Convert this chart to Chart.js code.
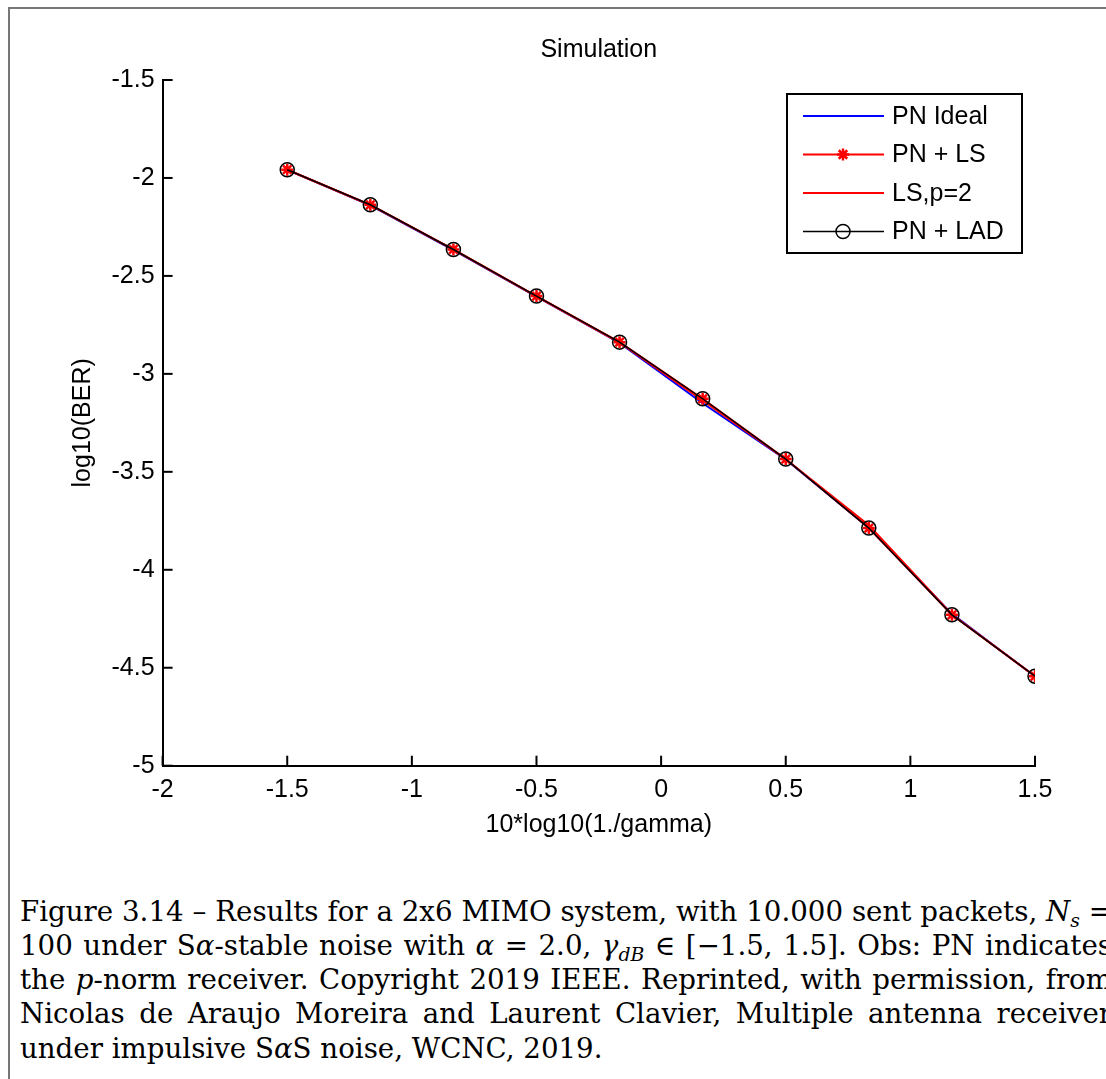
<!DOCTYPE html>
<html>
<head>
<meta charset="utf-8">
<script src="https://cdn.jsdelivr.net/npm/chart.js@4.4.1/dist/chart.umd.min.js"></script>
<style>
  html, body { margin: 0; padding: 0; background: #fff; width: 1106px; height: 1079px; overflow: hidden; }
  #frame { position: absolute; left: 8px; top: 7px; width: 1120px; height: 1100px;
           border-left: 2px solid #777; border-top: 2px solid #777; }
  #plot { position: absolute; left: 0; top: 0; }
  #caption { position: absolute; left: 20px; top: 894px; }
  .cap { width: max-content; white-space: nowrap;
         font-family: "DejaVu Serif", serif; font-size: 20px; line-height: 34.25px; color: #000; }
  .cap i { font-style: italic; }
  .cap sub { font-size: 0.68em; vertical-align: -0.3em; line-height: 0; }
</style>
</head>
<body>
<div id="frame"></div>
<canvas id="plot" width="1106" height="860"></canvas>

<div id="caption">
<div class="cap">Figure 3.14 – Results for a 2x6 MIMO system, with 10.000 sent packets, <i>N</i><sub><i>s</i></sub> =</div>
<div class="cap">100 under S<i>α</i>-stable noise with <i>α</i> = 2.0, <i>γ</i><sub><i>dB</i></sub> ∈ [−1.5, 1.5]. Obs: PN indicates</div>
<div class="cap">the <i>p</i>-norm receiver. Copyright 2019 IEEE. Reprinted, with permission, from</div>
<div class="cap">Nicolas de Araujo Moreira and Laurent Clavier, Multiple antenna receiver</div>
<div class="cap">under impulsive S<i>α</i>S noise, WCNC, 2019.</div>
</div>

<script>
// --- DATA ---
const xVals   = [-1.5, -1.1667, -0.8333, -0.5, -0.1667, 0.1667, 0.5, 0.8333, 1.1667, 1.5];
const pnIdeal = [-1.958, -2.140, -2.368, -2.606, -2.842, -3.150, -3.437, -3.785, -4.225, -4.545];
const pnLS    = [-1.958, -2.137, -2.365, -2.603, -2.838, -3.127, -3.435, -3.787, -4.230, -4.543];
const lsP2    = [-1.958, -2.138, -2.366, -2.604, -2.840, -3.135, -3.436, -3.772, -4.228, -4.543];
const pnLAD   = [-1.958, -2.137, -2.365, -2.603, -2.838, -3.127, -3.435, -3.787, -4.230, -4.543];
const seriesNames = ['PN Ideal', 'PN + LS', 'LS,p=2', 'PN + LAD'];
const chartTitle = 'Simulation';

// --- CONFIG ---
const FONT_FAMILY = '"Liberation Sans", Arial, sans-serif';
const AXIS_FONT = { family: FONT_FAMILY, size: 25, weight: 'normal' };
const CANVAS_H = 860;

const toPts = ys => ys.map((y, i) => ({ x: xVals[i], y: y }));
const fmtTick = v => Number(v.toFixed(2)).toString();

// legend styles, same order as seriesNames
const legendStyles = [
    { color: '#0000ff', width: 2,   point: null },
    { color: '#ff0000', width: 2,   point: { pointStyle: 'star', radius: 6, borderWidth: 2.5 } },
    { color: '#ff0000', width: 2,   point: null },
    { color: '#000000', width: 1.5, point: { pointStyle: 'circle', radius: 7, borderWidth: 1.5 } }
];

// title centred over the axes (the built-in one centres over the canvas)
const axesTitle = {
    id: 'axesTitle',
    afterDraw(chart) {
        const { ctx, chartArea: a } = chart;
        ctx.save();
        ctx.font = AXIS_FONT.size + 'px ' + FONT_FAMILY;
        ctx.fillStyle = '#000';
        ctx.textAlign = 'center';
        ctx.textBaseline = 'middle';
        ctx.fillText(chartTitle, (a.left + a.right) / 2, 50);
        ctx.restore();
    }
};

// MATLAB style ticks pointing into the axes
const inwardTicks = {
    id: 'inwardTicks',
    afterDraw(chart) {
        const { ctx, chartArea: a, scales } = chart;
        ctx.save();
        ctx.strokeStyle = '#000';
        ctx.lineWidth = 2;
        scales.x.ticks.forEach(t => {
            const px = scales.x.getPixelForValue(t.value);
            ctx.beginPath(); ctx.moveTo(px, a.bottom); ctx.lineTo(px, a.bottom - 10); ctx.stroke();
        });
        scales.y.ticks.forEach(t => {
            const py = scales.y.getPixelForValue(t.value);
            ctx.beginPath(); ctx.moveTo(a.left, py); ctx.lineTo(a.left + 10, py); ctx.stroke();
        });
        ctx.restore();
    }
};

// legend box inside the axes, top right
const boxLegend = {
    id: 'boxLegend',
    afterDraw(chart) {
        const { ctx, chartArea: a } = chart;
        const left = a.right - 248, top = a.top + 14, w = 235, h = 159;
        ctx.save();
        ctx.fillStyle = '#fff';
        ctx.fillRect(left, top, w, h);
        ctx.strokeStyle = '#000';
        ctx.lineWidth = 2;
        ctx.strokeRect(left, top, w, h);
        ctx.font = AXIS_FONT.size + 'px ' + FONT_FAMILY;
        ctx.textBaseline = 'middle';
        seriesNames.forEach((name, i) => {
            const st = legendStyles[i];
            const y = top + 22 + 38.5 * i;
            ctx.strokeStyle = st.color;
            ctx.lineWidth = st.width;
            ctx.beginPath(); ctx.moveTo(left + 16, y); ctx.lineTo(left + 97, y); ctx.stroke();
            if (st.point) {
                ctx.fillStyle = 'rgba(0,0,0,0)';
                ctx.lineWidth = st.point.borderWidth;
                Chart.helpers.drawPoint(ctx, Object.assign({ rotation: 0 }, st.point), left + 56, y);
            }
            ctx.fillStyle = '#000';
            ctx.fillText(name, left + 105, y + 1);
        });
        ctx.restore();
    }
};

new Chart(document.getElementById('plot').getContext('2d'), {
    type: 'line',
    data: {
        datasets: [
            { label: seriesNames[0], data: toPts(pnIdeal), borderColor: '#0000ff', borderWidth: 2,
              pointRadius: 0, order: 4 },
            { label: seriesNames[1], data: toPts(pnLS), borderColor: '#ff0000', borderWidth: 2,
              pointStyle: 'star', pointRadius: 6, pointBorderWidth: 2.5, pointBorderColor: '#ff0000', order: 3 },
            { label: seriesNames[2], data: toPts(lsP2), borderColor: '#ff0000', borderWidth: 2,
              pointRadius: 0, order: 2 },
            { label: seriesNames[3], data: toPts(pnLAD), borderColor: '#000000', borderWidth: 1.5,
              pointStyle: 'circle', pointRadius: 7, pointBorderWidth: 1.5, pointBorderColor: '#000',
              pointBackgroundColor: 'rgba(0,0,0,0)', order: 1 }
        ]
    },
    options: {
        responsive: false,
        animation: false,
        events: [],
        layout: { padding: { left: 0, right: 71, top: 80, bottom: 0 } },
        plugins: {
            legend: { display: false },
            tooltip: { enabled: false },
            title: { display: false }
        },
        scales: {
            x: {
                type: 'linear', min: -2, max: 1.5,
                grid: { display: false, drawTicks: false },
                border: { display: true, color: '#000', width: 2 },
                ticks: { stepSize: 0.5, color: '#000', font: AXIS_FONT, padding: 9,
                         maxRotation: 0, autoSkip: false, callback: fmtTick },
                title: { display: true, text: '10*log10(1./gamma)', color: '#000', font: AXIS_FONT,
                         padding: { top: 0, bottom: 20 } },
                afterFit: s => { s.height = CANVAS_H - 765.7; }
            },
            y: {
                type: 'linear', min: -5, max: -1.5,
                grid: { display: false, drawTicks: false },
                border: { display: true, color: '#000', width: 2 },
                ticks: { stepSize: 0.5, color: '#000', font: AXIS_FONT, padding: 8, callback: fmtTick },
                title: { display: true, text: 'log10(BER)', color: '#000', font: AXIS_FONT,
                         padding: { top: 68, bottom: 0 } },
                afterFit: s => { s.width = 162.6; }
            }
        }
    },
    plugins: [axesTitle, inwardTicks, boxLegend]
});

// --- CAPTION: size the font from the short last line, then justify the rest ---
function layoutCaption() {
    const lines = Array.from(document.querySelectorAll('.cap'));
    const last = lines[lines.length - 1];
    const fs = 20 * 583 / last.getBoundingClientRect().width;
    lines.forEach(l => { l.style.fontSize = fs + 'px'; });
    lines.forEach((l, i) => {
        if (i === lines.length - 1) return;
        const w = l.getBoundingClientRect().width;
        const spaces = (l.textContent.match(/ /g) || []).length;
        l.style.wordSpacing = ((1092 - w) / spaces) + 'px';
    });
    // keep the first line's text centred near y = 913
    document.getElementById('caption').style.top = (913 + 0.3 * fs - 17.1 - 0.346 * fs) + 'px';
}
layoutCaption();
</script>
</body>
</html>
